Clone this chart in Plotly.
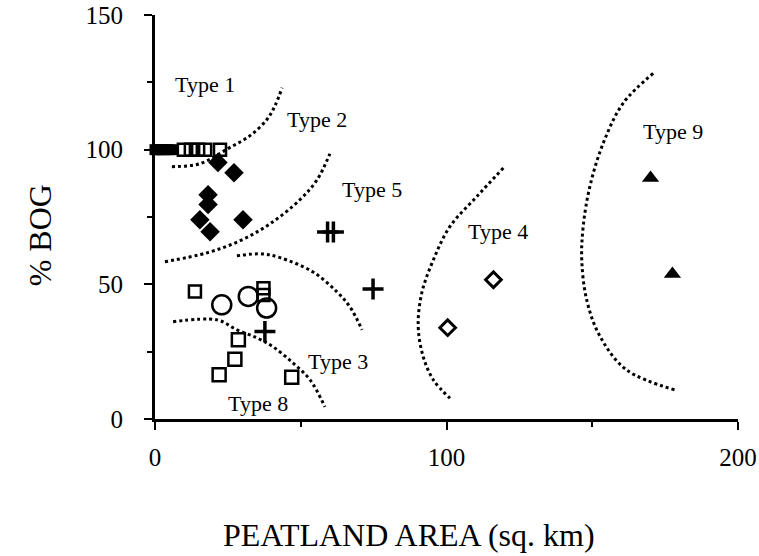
import plotly.graph_objects as go

# ---- data ----
type1_filled_x = [0, 1, 2, 3, 4.5, 6]
type1_filled_y = [100, 100, 100, 100, 100, 100]
type1_open_x = [9.9, 12.3, 14.8, 17.2, 22.3]
type1_open_y = [100, 100, 100, 100, 100]

type2_x = [21.6, 27.1, 18.2, 18.2, 15.4, 30.2, 18.9]
type2_y = [95.2, 91.4, 83.3, 79.6, 74.0, 74.0, 69.5]

type5_x = [59.2, 61.2, 74.8, 37.7]
type5_y = [69.4, 69.4, 48.3, 32.5]

type3_circle_x = [22.9, 32.0, 38.3]
type3_circle_y = [42.4, 45.5, 41.2]
type3_square_x = [13.7, 37.2, 37.2]
type3_square_y = [47.3, 48.5, 46.0]

type8_x = [28.6, 27.4, 22.0, 46.9]
type8_y = [29.4, 22.2, 16.4, 15.5]

type4_x = [116.1, 100.4]
type4_y = [51.7, 33.9]

type9_x = [170.0, 177.5]
type9_y = [89.5, 53.8]

# boundary curves
curve_a_x = [5.8, 15.4, 25.0, 32.6, 38.4, 41.2, 43.6]
curve_a_y = [93.7, 94.8, 100.4, 105.2, 111.2, 116.4, 123.0]
curve_b_x = [3.4, 17.8, 29.2, 39.5, 49.7, 55.6, 60.0]
curve_b_y = [58.4, 61.7, 66.2, 72.5, 81.4, 88.8, 98.5]
curve_c_x = [28.1, 36.7, 42.9, 54.2, 62.4, 66.9, 71.0]
curve_c_y = [60.6, 61.3, 59.9, 54.6, 47.2, 41.6, 33.1]
curve_d_x = [6.2, 21.3, 28.1, 35.0, 40.5, 47.3, 53.2, 58.3]
curve_d_y = [36.1, 36.8, 33.1, 30.1, 26.8, 20.8, 14.5, 4.5]
curve_e_x = [119.5, 110.4, 101.2, 95.5, 91.5, 90.3, 92.0, 95.5, 101.2]
curve_e_y = [93.2, 82.6, 71.5, 59.1, 46.7, 34.3, 23.2, 14.5, 7.7]
curve_f_x = [170.9, 160.7, 153.8, 149.2, 146.9, 146.4, 148.1, 152.7, 161.8, 178.4]
curve_f_y = [128.3, 117.4, 102.5, 86.4, 71.5, 59.1, 44.2, 30.6, 18.2, 10.8]

label_text = ["Type 1", "Type 2", "Type 5", "Type 4", "Type 9", "Type 3", "Type 8"]
label_x = [17.2, 55.6, 74.4, 117.7, 177.7, 62.8, 35.3]
label_y = [124.2, 111.2, 85.1, 69.5, 106.7, 21.2, 5.9]

x_ticks = [0, 100, 200]
y_ticks = [0, 50, 100, 150]

FONT = "Liberation Serif, Times New Roman, serif"

fig = go.Figure()

for cx, cy in [(curve_a_x, curve_a_y), (curve_b_x, curve_b_y), (curve_c_x, curve_c_y),
               (curve_d_x, curve_d_y), (curve_e_x, curve_e_y), (curve_f_x, curve_f_y)]:
    fig.add_trace(go.Scatter(x=cx, y=cy, mode="lines",
                             line=dict(color="black", width=3, dash="3px,3px", shape="spline"),
                             hoverinfo="skip", cliponaxis=False))

def pts(x, y, symbol, size, lw=0, color="black", fill="black"):
    fig.add_trace(go.Scatter(x=x, y=y, mode="markers", cliponaxis=False,
                             marker=dict(symbol=symbol, size=size, color=fill,
                                         line=dict(color=color, width=lw))))

pts(type1_filled_x, type1_filled_y, "square", 11)
pts(type1_open_x, type1_open_y, "square-open", 12, lw=2.5)
pts(type2_x, type2_y, "diamond", 15)
pts(type5_x, type5_y, "cross-thin-open", 15, lw=3.5)
pts(type3_circle_x, type3_circle_y, "circle-open", 19, lw=2.5)
pts(type3_square_x, type3_square_y, "square-open", 12, lw=2.5)
pts(type8_x, type8_y, "square-open", 13, lw=2.5)
pts(type4_x, type4_y, "diamond-open", 12, lw=3)
pts(type9_x, type9_y, "triangle-up", 15)

for t, x, y in zip(label_text, label_x, label_y):
    fig.add_annotation(x=x, y=y, text=t, showarrow=False,
                       font=dict(family=FONT, size=22, color="black"))

fig.add_annotation(xref="paper", yref="paper", x=0.436, y=-0.287, text="PEATLAND AREA (sq. km)",
                   showarrow=False, font=dict(family=FONT, size=32, color="black"),
                   xanchor="center", yanchor="middle")
fig.add_annotation(xref="paper", yref="paper", x=-0.197, y=0.455, text="% BOG", textangle=-90,
                   showarrow=False, font=dict(family=FONT, size=32, color="black"),
                   xanchor="center", yanchor="middle")

fig.update_layout(
    width=759, height=556,
    margin=dict(l=155, r=21, t=15, b=137, autoexpand=False),
    paper_bgcolor="white", plot_bgcolor="white",
    showlegend=False,
    font=dict(family=FONT, color="black"),
)
fig.update_xaxes(range=[0, 200], tickvals=x_ticks, showgrid=False, zeroline=False, automargin=False,
                 showline=True, linecolor="black", linewidth=3,
                 ticks="outside", ticklen=8, tickwidth=2, tickcolor="black",
                 tickfont=dict(family=FONT, size=25, color="black"),
                 ticklabelstandoff=6,
                 minor=dict(dtick=50, ticklen=5, tickwidth=2, ticks="outside", tickcolor="black", showgrid=False))
fig.update_yaxes(range=[0, 150], tickvals=y_ticks, showgrid=False, zeroline=False, automargin=False,
                 showline=True, linecolor="black", linewidth=3,
                 ticks="outside", ticklen=8, tickwidth=2, tickcolor="black",
                 tickfont=dict(family=FONT, size=25, color="black"),
                 ticklabelstandoff=16,
                 minor=dict(dtick=25, ticklen=5, tickwidth=2, ticks="outside", tickcolor="black", showgrid=False))

fig.write_html("out.html", config={"displayModeBar": False},
               post_script="document.body.style.margin='0';document.body.style.overflow='hidden';")
